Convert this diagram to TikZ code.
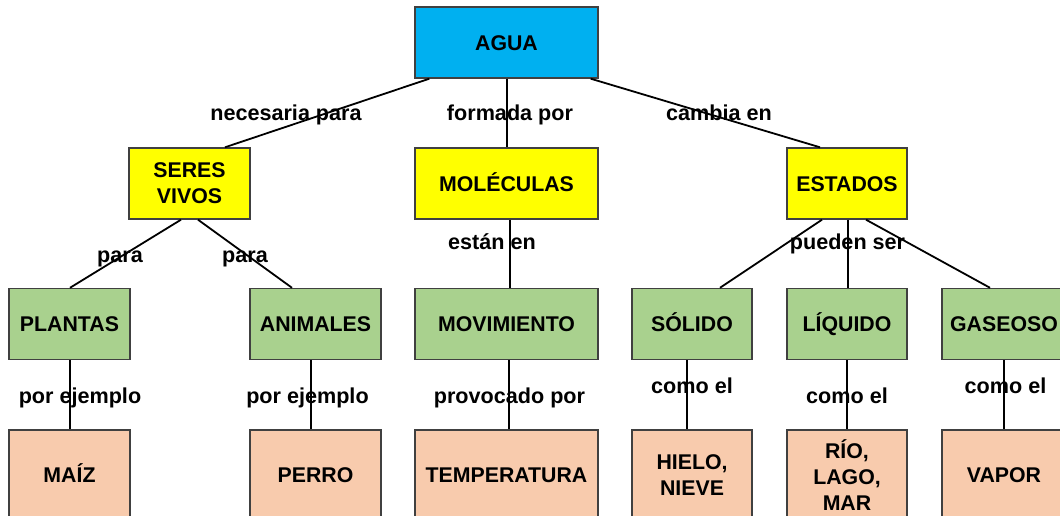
\documentclass[tikz,border=0pt]{standalone}
\usepackage{fontspec}
\setmainfont{Liberation Sans}
\definecolor{cblue}{HTML}{00B0F0}
\definecolor{cyellow}{HTML}{FFFF00}
\definecolor{cgreen}{HTML}{A9D18E}
\definecolor{cpeach}{HTML}{F8CBAD}
\definecolor{cborder}{HTML}{404040}
\begin{document}
\begin{tikzpicture}[x=1pt,y=-1pt,
  box/.style={draw=cborder,line width=1.4pt,rectangle,inner sep=0pt,align=center,
    minimum height=71pt,font=\fontsize{21.3}{26}\selectfont\bfseries},
  one/.style={text height=15.3pt,text depth=0pt},
  lbl/.style={inner sep=0pt,anchor=base,font=\fontsize{21.6}{24}\selectfont\bfseries},
  conn/.style={draw=black,line width=1.8pt}]
\useasboundingbox (0,0) rectangle (1060,516);
% row 1
\node[box,one,fill=cblue,minimum width=183pt] (agua) at (506.5,42.5) {AGUA};
% row 2
\node[box,fill=cyellow,minimum width=121pt] (seres) at (189.5,183.5) {SERES\\VIVOS};
\node[box,one,fill=cyellow,minimum width=183pt] (molec) at (506.5,183.5) {MOLÉCULAS};
\node[box,one,fill=cyellow,minimum width=120pt] (estados) at (847,183.5) {ESTADOS};
% row 3
\node[box,one,fill=cgreen,minimum width=121pt] (plantas) at (69.5,324) {PLANTAS};
\node[box,one,fill=cgreen,minimum width=131pt] (animales) at (315.5,324) {ANIMALES};
\node[box,one,fill=cgreen,minimum width=183pt] (movim) at (506.5,324) {MOVIMIENTO};
\node[box,one,fill=cgreen,minimum width=120pt] (solido) at (692,324) {SÓLIDO};
\node[box,one,fill=cgreen,minimum width=120pt] (liquido) at (847,324) {LÍQUIDO};
\node[box,one,fill=cgreen,minimum width=124pt] (gaseoso) at (1004,324) {GASEOSO};
% row 4
\node[box,one,fill=cpeach,minimum width=121pt,minimum height=90pt] (maiz) at (69.5,475) {MAÍZ};
\node[box,one,fill=cpeach,minimum width=131pt,minimum height=90pt] (perro) at (315.5,475) {PERRO};
\node[box,one,fill=cpeach,minimum width=183pt,minimum height=90pt] (temp) at (506.5,475) {TEMPERATURA};
\node[box,fill=cpeach,minimum width=120pt,minimum height=90pt] (hielo) at (692,475) {HIELO,\\NIEVE};
\node[box,fill=cpeach,minimum width=120pt,minimum height=90pt] (rio) at (847,475) {RÍO,\\LAGO,\\MAR};
\node[box,one,fill=cpeach,minimum width=124pt,minimum height=90pt] (vapor) at (1004,475) {VAPOR};
% connectors
\draw[conn] ([xshift=15pt]agua.south west) -- ([xshift=35.5pt]seres.north);
\draw[conn] ([xshift=0.5pt]agua.south) -- ([xshift=0.5pt]molec.north);
\draw[conn] ([xshift=-8pt]agua.south east) -- ([xshift=-27pt]estados.north);
\draw[conn] ([xshift=-8.5pt]seres.south) -- ([xshift=0.5pt]plantas.north);
\draw[conn] ([xshift=8.5pt]seres.south) -- ([xshift=-23.5pt]animales.north);
\draw[conn] ([xshift=3.5pt]molec.south) -- ([xshift=3.5pt]movim.north);
\draw[conn] ([xshift=-25pt]estados.south) -- ([xshift=28pt]solido.north);
\draw[conn] ([xshift=1pt]estados.south) -- ([xshift=1pt]liquido.north);
\draw[conn] ([xshift=19pt]estados.south) -- ([xshift=-14pt]gaseoso.north);
\draw[conn] ([xshift=0.5pt]plantas.south) -- ([xshift=0.5pt]maiz.north);
\draw[conn] ([xshift=-4.5pt]animales.south) -- ([xshift=-4.5pt]perro.north);
\draw[conn] ([xshift=2.5pt]movim.south) -- ([xshift=2.5pt]temp.north);
\draw[conn] ([xshift=-5pt]solido.south) -- ([xshift=-5pt]hielo.north);
\draw[conn] (liquido.south) -- (rio.north);
\draw[conn] (gaseoso.south) -- (vapor.north);
% labels
\node[lbl] (l1) at (286,121) {necesaria para};
\node[lbl] (l2) at (510,121) {formada por};
\node[lbl] (l3) at (719,121) {cambia en};
\node[lbl] (l4) at (120,262) {para};
\node[lbl] (l5) at (245,262) {para};
\node[lbl] (l6) at (492,249) {están en};
\node[lbl] (l7) at (847.5,249) {pueden ser};
\node[lbl] (l8) at (80,403) {por ejemplo};
\node[lbl] (l9) at (307.5,403) {por ejemplo};
\node[lbl] (l10) at (509.5,403) {provocado por};
\node[lbl] (l11) at (692,393) {como el};
\node[lbl] (l12) at (847,403) {como el};
\node[lbl] (l13) at (1005.5,393) {como el};
\end{tikzpicture}
\end{document}
